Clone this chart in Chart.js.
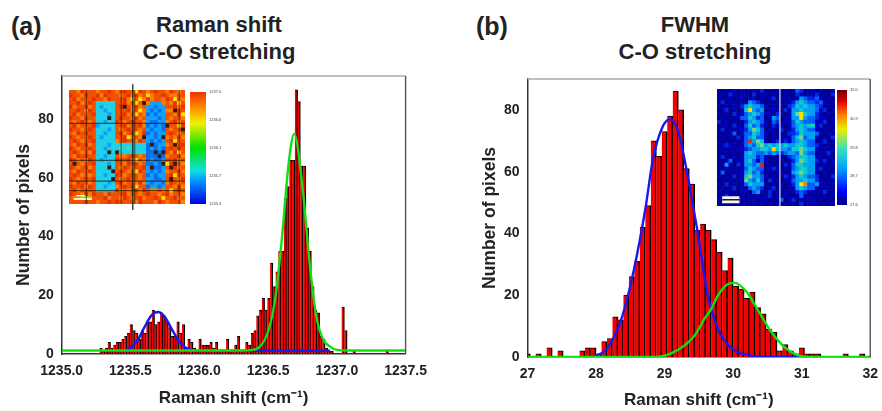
<!DOCTYPE html>
<html>
<head>
<meta charset="utf-8">
<title>Raman shift and FWHM histograms</title>
<script src="https://cdn.jsdelivr.net/npm/chart.js@4"></script>
<style>
  html, body { margin: 0; padding: 0; background: #fff; }
  body { position: relative; width: 882px; height: 411px; overflow: hidden; filter: blur(0.6px); }
  canvas { position: absolute; }
  .map { filter: blur(0.5px); }
  .label { position: absolute; font: bold 22px "Liberation Sans", Arial, sans-serif; color: #222; text-align: center; line-height: 27px; white-space: nowrap; }
  .panel { font-size: 25px; }
</style>
</head>
<body>
<div class="label panel" style="left:11px;top:13px">(a)</div>
<div class="label panel" style="left:476px;top:13px">(b)</div>
<div class="label" style="left:119px;top:11px;width:200px">Raman shift<br>C-O stretching</div>
<div class="label" style="left:595px;top:11px;width:200px">FWHM<br>C-O stretching</div>

<canvas id="chart-shift" width="441" height="411" style="left:0;top:0"></canvas>
<canvas id="chart-fwhm" width="441" height="411" style="left:441px;top:0"></canvas>
<canvas id="map-shift" class="map" width="116" height="126" style="left:69px;top:84px"></canvas>
<canvas id="bar-shift" width="36" height="124" style="left:190px;top:86px"></canvas>
<canvas id="map-fwhm" class="map" width="118" height="117" style="left:717px;top:89px"></canvas>
<canvas id="bar-fwhm" width="30" height="127" style="left:837px;top:84px"></canvas>

<script>
/* global Chart */

// (a) histogram, only the non empty bins
const shiftBins = [
  1235.285, 1235.305, 1235.325, 1235.345, 1235.365, 1235.385, 1235.405, 1235.425, 1235.445, 1235.465,
  1235.485, 1235.505, 1235.525, 1235.545, 1235.565, 1235.585, 1235.605, 1235.625, 1235.645, 1235.665,
  1235.685, 1235.705, 1235.725, 1235.745, 1235.765, 1235.785, 1235.805, 1235.825, 1235.845, 1235.865,
  1235.885, 1235.905, 1235.925, 1235.945, 1235.965, 1235.985, 1236.005, 1236.025, 1236.045, 1236.065,
  1236.085, 1236.105, 1236.125, 1236.145, 1236.165, 1236.185, 1236.205, 1236.225, 1236.245, 1236.265,
  1236.285, 1236.305, 1236.325, 1236.345, 1236.365, 1236.385, 1236.405, 1236.425, 1236.445, 1236.465,
  1236.485, 1236.505, 1236.525, 1236.545, 1236.565, 1236.585, 1236.605, 1236.625, 1236.645, 1236.665,
  1236.685, 1236.705, 1236.725, 1236.745, 1236.765, 1236.785, 1236.805, 1236.825, 1236.845, 1236.865,
  1236.885, 1236.905, 1236.925, 1236.945, 1236.965, 1237.045, 1237.065, 1237.125, 1237.365,
];
const shiftCounts = [
  2, 1, 2, 4, 2, 3, 4, 4, 5, 6,
  7, 10, 8, 7, 5, 8, 7, 11, 11, 15,
  10, 11, 14, 13, 11, 9, 6, 6, 11, 7,
  10, 2, 5, 4, 2, 1, 5, 3, 3, 3,
  4, 2, 4, 1, 1, 1, 5, 1, 1, 3,
  6, 1, 1, 4, 3, 7, 8, 13, 15, 19,
  15, 19, 31, 23, 28, 35, 35, 53, 57, 66,
  66, 90, 86, 64, 64, 43, 35, 23, 15, 14,
  6, 5, 2, 1, 1, 16, 8, 1, 1,
];
const shiftBlueX = [1235.46, 1235.5, 1235.55, 1235.6, 1235.65, 1235.7, 1235.75, 1235.8, 1235.85, 1235.9, 1235.95, 1236.0, 1236.95];
const shiftBlueY = [1.2, 2, 4.5, 9, 13, 14.3, 12.6, 8.5, 4.5, 2.2, 1.3, 1.1, 1.1];
const shiftGreenX = [1235, 1236.3, 1236.4, 1236.45, 1236.5, 1236.55, 1236.6, 1236.65, 1236.69, 1236.75, 1236.8, 1236.85, 1236.9, 1236.95, 1237, 1237.1, 1237.5];
const shiftGreenY = [1.2, 1.2, 1.5, 3, 7.5, 18, 39, 65, 75, 57, 32, 13, 5, 2.5, 1.4, 1.2, 1.2];

// (b) histogram
const fwhmBins = [
  27.0, 27.16, 27.32, 27.48, 27.8, 27.88, 27.96, 28.04, 28.12, 28.2,
  28.28, 28.36, 28.44, 28.52, 28.6, 28.68, 28.76, 28.84, 28.92, 29.0,
  29.08, 29.16, 29.24, 29.32, 29.4, 29.48, 29.56, 29.64, 29.72, 29.8,
  29.88, 29.96, 30.04, 30.12, 30.2, 30.28, 30.36, 30.44, 30.52, 30.6,
  30.68, 30.76, 30.84, 30.92, 31.0, 31.08, 31.16, 31.24, 31.64, 31.88,
];
const fwhmCounts = [
  1, 1, 3, 2, 2, 3, 3, 1, 5, 6,
  13, 12, 20, 26, 31, 42, 49, 70, 65, 73,
  78, 86, 80, 61, 56, 41, 43, 41, 38, 34,
  28, 32, 23, 22, 19, 21, 16, 14, 9, 8,
  2, 4, 2, 1, 3, 1, 1, 1, 1, 1,
];
const fwhmBlueX = [27.9, 28, 28.1, 28.2, 28.38, 28.55, 28.72, 28.83, 28.96, 29.08, 29.2, 29.3, 29.47, 29.63, 29.78, 29.97, 30.3, 30.5, 31];
const fwhmBlueY = [0, 0.5, 1.5, 4, 13, 28, 48, 64, 74, 77, 73, 63, 42, 20, 9, 3, 0.3, 0, 0];
const fwhmGreenX = [27, 28.8, 29, 29.2, 29.3, 29.44, 29.585, 29.68, 29.78, 29.945, 30.02, 30.2, 30.34, 30.56, 30.76, 31, 31.3, 32];
const fwhmGreenY = [0, 0, 0.4, 2.4, 3.9, 7, 12.5, 15.5, 20, 23.8, 24, 21, 16, 8, 3, 0.3, 0, 0];

// inset maps, one digit per cell, k is a dead pixel
const shiftMapRows = [
  '887988878898789886987898879878',
  '988798897988878979786788987788',
  '897888988798889768679788798687',
  '8897898333338897868k7222787968',
  '97889783233389k879782212288979',
  '889879833233888978672121277k98',
  '897888933323889786871212288796',
  '9887988333k3898879782221287887',
  '878987833233987898872112278978',
  '8978889233338897889712121k8869',
  '98878983332387898878212218788k',
  '879898833233897896791212289878',
  '9878898323338896787k2212k78797',
  '898788933333789887982121289688',
  '879897833323333333331k12278k89',
  '987889833233343433331212189898',
  '8987879333k3k333333311k1k87968',
  '87989883323387789878111k178897',
  '987879832333988976871211288978',
  '8k8788933323887989781121k69k87',
  '9878978333k3879878892k1128k978',
  '87988983333k898786982121278897',
  '898787833233987898781212289688',
  '98789893333k87898878221128k879',
  '879887833323897887972122179878',
  '988979833233789896881221288797',
  '897888833333978789798778786898',
  '988797988798889788789887897887',
  '877555888978879878978898688978',
  '888898878898988887988879878887',
];
const fwhmMapRows = [
  '101010101102010101013201101001',
  '010210110201101001002101120102',
  '101101101101012010101432231010',
  '020110114321010101124543323101',
  '101010245443101010235454432010',
  '012010157434011102144544431201',
  '101021134543110210146754421010',
  '010101335423014301144743321101',
  '201010124543103201135433311201',
  '011021035342102110134545512010',
  '020101124653011020124543310101',
  '101130133543101010223544431010',
  '010102134533101011135634410102',
  '101010139465101212134543301201',
  '012110134356454545445543321010',
  '010101123445547544355654410101',
  '101010145433434323443643301120',
  '021010144423101010234554411010',
  '101301145313101010124654421201',
  '014102144349010102135544410101',
  '101010135433112101034554412010',
  '030101145342010110145654410101',
  '101020156443101002124543320102',
  '010101164353020101134454421010',
  '102010135444101010124783341101',
  '010120113432012010114543311010',
  '101010110341020101012321101201',
  '012010101010120101101310010101',
  '101010101101101030120101101010',
  '010101010101010101010201110101',
];
const shiftMapColors = { 0: '#0000f0', 1: '#0870f0', 2: '#10a0f8', 3: '#20d0e8', 4: '#40e0a0', 5: '#a0e000', 6: '#ffe000', 7: '#f88000', 8: '#f05000', 9: '#e83000', k: '#3a1a08' };
const fwhmMapColors = { 0: '#000088', 1: '#0000b8', 2: '#0028e0', 3: '#0060ff', 4: '#00a0f0', 5: '#10c8d0', 6: '#70d880', 7: '#ffe000', 8: '#ff8000', 9: '#f02010' };

// dark scan lines on the Raman shift map, in cell units
const shiftDarkRows = [8.3, 18, 23.5, 26];
const shiftDarkCols = [4, 13, 16.5, 28];
const shiftStrongCol = 16;
const fwhmWhiteCol = 15.5;

// colour bars
const shiftBarLabels = ['1235.3', '1235.7', '1236.1', '1236.6', '1237.0'];
const shiftBarColors = ['#0000e0', '#0090ff', '#10e0e0', '#00e000', '#f0f000', '#ff8800', '#f03000'];
const shiftBarStops = [0, 0.2, 0.3, 0.5, 0.72, 0.87, 1];
const fwhmBarLabels = ['27.6', '28.7', '29.8', '30.9', '32.0'];
const fwhmBarColors = ['#000080', '#0000ff', '#00a0ff', '#30e0c0', '#e8f000', '#ff8000', '#e00000', '#700000'];
const fwhmBarStops = [0, 0.12, 0.32, 0.48, 0.66, 0.78, 0.9, 1];

const FONT = '"Liberation Sans", Arial, sans-serif';
const INK = '#222';

// grey frame round the plot, the axes draw the left and bottom sides again
const frame = {
  id: 'frame',
  afterDatasetsDraw(chart) {
    const { ctx, chartArea: a } = chart;
    ctx.save();
    ctx.lineWidth = 1.4;
    ctx.strokeStyle = '#aaa';
    ctx.beginPath();
    ctx.moveTo(a.left, a.top);
    ctx.lineTo(a.right, a.top);
    ctx.stroke();
    ctx.strokeStyle = '#555';
    ctx.beginPath();
    ctx.moveTo(a.right, a.top);
    ctx.lineTo(a.right, a.bottom);
    ctx.stroke();
    ctx.restore();
  },
};

function points(xs, ys) {
  return xs.map((x, i) => ({ x, y: ys[i] }));
}

function histogram(id, cfg) {
  new Chart(document.getElementById(id), {
    type: 'bar',
    data: {
      datasets: [
        { type: 'line', data: points(cfg.greenX, cfg.greenY), borderColor: '#10e010', borderWidth: 2.4, pointRadius: 0, cubicInterpolationMode: 'monotone', order: 1 },
        { type: 'line', data: points(cfg.blueX, cfg.blueY), borderColor: '#1818f0', borderWidth: 2.4, pointRadius: 0, cubicInterpolationMode: 'monotone', order: 2 },
        {
          data: points(cfg.bins, cfg.counts),
          backgroundColor: '#f40000',
          borderColor: '#000',
          borderWidth: { top: 1, right: cfg.stripe, left: 0, bottom: 0 },
          borderSkipped: false,
          barThickness: cfg.barWidth,
          order: 3,
        },
      ],
    },
    options: {
      responsive: false,
      animation: false,
      layout: { padding: cfg.padding },
      plugins: { legend: { display: false }, title: { display: false }, tooltip: { enabled: false } },
      scales: {
        x: {
          type: 'linear',
          offset: false,
          min: cfg.xMin,
          max: cfg.xMax,
          grid: { display: false, drawTicks: true, tickLength: 5, tickColor: '#333' },
          border: { color: '#333', width: 1.5 },
          ticks: {
            stepSize: cfg.xStep,
            autoSkip: false,
            maxRotation: 0,
            includeBounds: false,
            padding: 4,
            color: INK,
            font: { family: FONT, size: 14, weight: 'bold' },
            callback: cfg.xLabel,
          },
          title: { display: true, text: 'Raman shift (cm⁻¹)', color: INK, padding: { top: 5, bottom: cfg.titleBottom }, font: { family: FONT, size: 17, weight: 'bold' } },
          afterFit(scale) { scale.height = cfg.padding.axisBottom; },
        },
        y: {
          min: 0,
          max: cfg.yMax,
          grid: { display: false, drawTicks: true, tickLength: 5, tickColor: '#333' },
          border: { color: '#333', width: 1.5 },
          ticks: {
            stepSize: 10,
            autoSkip: false,
            includeBounds: false,
            padding: 3,
            color: INK,
            font: { family: FONT, size: 14, weight: 'bold' },
            callback: v => (v % 20 === 0 ? String(v) : ''),
          },
          title: { display: true, text: 'Number of pixels', color: INK, padding: { top: cfg.titleLeft, bottom: 0 }, font: { family: FONT, size: 17.5, weight: 'bold' } },
          afterFit(scale) { scale.width = cfg.padding.axisLeft; },
        },
      },
    },
    plugins: [frame],
  });
}

histogram('chart-shift', {
  bins: shiftBins, counts: shiftCounts,
  blueX: shiftBlueX, blueY: shiftBlueY, greenX: shiftGreenX, greenY: shiftGreenY,
  xMin: 1235, xMax: 1237.5, xStep: 0.25, yMax: 94.7, barWidth: 2.76, stripe: 1.3,
  titleLeft: 14, titleBottom: 2,
  xLabel: v => (Math.abs(v * 2 - Math.round(v * 2)) < 1e-6 ? v.toFixed(1) : ''),
  padding: { left: 0, right: 35.4, top: 76, bottom: 0, axisLeft: 61.7, axisBottom: 57 },
});

histogram('chart-fwhm', {
  bins: fwhmBins, counts: fwhmCounts,
  blueX: fwhmBlueX, blueY: fwhmBlueY, greenX: fwhmGreenX, greenY: fwhmGreenY,
  xMin: 27, xMax: 32, xStep: 0.5, yMax: 90, barWidth: 5.6, stripe: 1.7,
  titleLeft: 9, titleBottom: 0,
  xLabel: v => (Number.isInteger(v) ? String(v) : ''),
  padding: { left: 30, right: 7, top: 79, bottom: 0, axisLeft: 56.5, axisBottom: 54 },
});

function cells(rows, colors) {
  const out = [];
  rows.forEach((row, y) => {
    [...row].forEach((code, x) => out.push({ x, y, code, color: colors[code] }));
  });
  return out;
}

function vline(x, from, to, color, width) {
  return { data: [{ x, y: from }, { x, y: to }], showLine: true, pointRadius: 0, borderColor: color, borderWidth: width, clip: false };
}

function hline(y, from, to, color, width) {
  return { data: [{ x: from, y }, { x: to, y }], showLine: true, pointRadius: 0, borderColor: color, borderWidth: width, clip: false };
}

function heatmap(id, rows, colors, overlays, pad) {
  new Chart(document.getElementById(id), {
    type: 'scatter',
    data: {
      datasets: [...overlays, {
        data: cells(rows, colors),
        pointStyle: 'rect',
        pointRadius: 3.2,
        pointBorderWidth: 0,
        pointBackgroundColor: ctx => ctx.raw.color,
      }],
    },
    options: {
      responsive: false,
      animation: false,
      layout: { padding: pad, autoPadding: false },
      plugins: { legend: { display: false }, tooltip: { enabled: false } },
      scales: {
        x: { display: false, min: -0.5, max: 29.5 },
        y: { display: false, min: -0.5, max: 29.5, reverse: true },
      },
    },
  });
}

heatmap('map-shift', shiftMapRows, shiftMapColors, [
  vline(shiftStrongCol, -2, 31.5, '#222', 1.3),
  ...shiftDarkRows.map(r => hline(r, -0.5, 29.5, 'rgba(30,20,0,0.65)', 1.2)),
  ...shiftDarkCols.map(c => vline(c, -0.5, 29.5, 'rgba(30,20,0,0.55)', 1.2)),
  hline(28.2, 0.7, 5.4, '#fff', 1.6),
  hline(27.3, 1.4, 3.6, '#fff', 1.2),
], { top: 6, bottom: 6 });

heatmap('map-fwhm', fwhmMapRows, fwhmMapColors, [
  vline(fwhmWhiteCol, -0.5, 29.5, '#d8d8e8', 1.3),
  hline(27.9, 0.8, 5.2, '#111', 1.4),
  hline(27.9, 0.8, 5.2, '#f4f4f4', 7),
], {});

function colourBar(id, labels, colors, stops, top, bottom, barWidth) {
  const canvas = document.getElementById(id);
  const gradient = canvas.getContext('2d').createLinearGradient(0, canvas.height - bottom, 0, top);
  stops.forEach((s, i) => gradient.addColorStop(s, colors[i]));
  new Chart(canvas, {
    type: 'bar',
    data: {
      labels: [''],
      datasets: [{ data: [labels.length - 1], backgroundColor: gradient, borderWidth: 0, barPercentage: 1, categoryPercentage: 1 }],
    },
    options: {
      responsive: false,
      animation: false,
      layout: { padding: { top, bottom, left: 0, right: 0 } },
      plugins: { legend: { display: false }, tooltip: { enabled: false } },
      scales: {
        x: { display: false },
        y: {
          position: 'right',
          min: 0,
          max: labels.length - 1,
          grid: { display: false, drawTicks: true, tickLength: 2, tickColor: '#444' },
          border: { display: false },
          ticks: { stepSize: 1, padding: 1, color: '#444', font: { family: FONT, size: 4 }, callback: v => labels[v] },
          afterFit(scale) { scale.width = canvas.width - barWidth; },
        },
      },
    },
  });
}

colourBar('bar-shift', shiftBarLabels, shiftBarColors, shiftBarStops, 6, 6, 16);
colourBar('bar-fwhm', fwhmBarLabels, fwhmBarColors, fwhmBarStops, 6, 6, 10);
</script>
</body>
</html>
